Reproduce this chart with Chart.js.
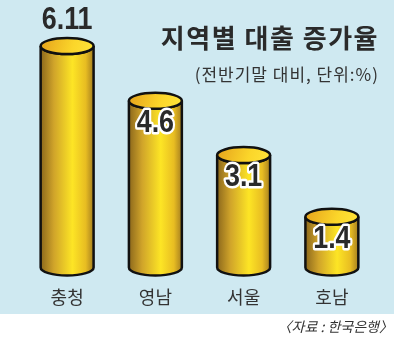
<!DOCTYPE html>
<html>
<head>
<meta charset="utf-8">
<title>지역별 대출 증가율</title>
<script src="https://cdn.jsdelivr.net/npm/chart.js"></script>
<style>
html,body{margin:0;padding:0;background:#fff}
canvas{display:block}
</style>
</head>
<body>
<canvas id="chart" width="394" height="339"></canvas>
<script>
const regions = ['충청', '영남', '서울', '호남'];
const rates = [6.11, 4.6, 3.1, 1.4];
const rateLabels = ['6.11', '4.6', '3.1', '1.4'];
const titleText = '지역별 대출 증가율';
const subtitleText = '(전반기말 대비, 단위:%)';
const sourceText = '〈자료 : 한국은행〉';

const KR = "'Noto Sans CJK KR', 'Noto Sans', sans-serif";
const NUM = "'Liberation Sans', Arial, sans-serif";

// blue panel, heading and source line
const backdrop = {
  id: 'backdrop',
  beforeDraw(chart) {
    const ctx = chart.ctx;
    ctx.save();
    ctx.fillStyle = '#fff';
    ctx.fillRect(0, 0, chart.width, chart.height);
    ctx.fillStyle = '#cfe9f1';
    ctx.fillRect(0, 0, chart.width, 314);

    ctx.fillStyle = '#2a2a2a';
    ctx.textAlign = 'right';
    ctx.textBaseline = 'middle';
    ctx.font = 'bold 26px ' + KR;
    ctx.letterSpacing = '1.5px';
    ctx.fillText(titleText, 379, 38);
    ctx.font = '17px ' + KR;
    ctx.letterSpacing = '1px';
    ctx.fillStyle = '#333';
    ctx.fillText(subtitleText, 379, 75);

    ctx.letterSpacing = '0px';
    ctx.font = 'italic 14px ' + KR;
    ctx.fillText(sourceText, 393, 327);
    ctx.restore();
  }
};

function drawCylinder(ctx, cx, top, base, w) {
  const rx = w / 2, ry = 8;
  const left = cx - rx, right = cx + rx;

  const body = ctx.createLinearGradient(left, 0, right, 0);
  body.addColorStop(0, '#8c681c');
  body.addColorStop(0.25, '#d0a42a');
  body.addColorStop(0.6, '#fde525');
  body.addColorStop(0.85, '#e8bd22');
  body.addColorStop(1, '#a67f20');

  ctx.beginPath();
  ctx.moveTo(left, top);
  ctx.lineTo(left, base);
  ctx.ellipse(cx, base, rx, ry, 0, Math.PI, 0, true);
  ctx.lineTo(right, top);
  ctx.ellipse(cx, top, rx, ry, 0, 0, Math.PI, false);
  ctx.closePath();
  ctx.fillStyle = body;
  ctx.fill();
  ctx.stroke();

  const cap = ctx.createLinearGradient(left, top - ry, right, top + ry);
  cap.addColorStop(0, '#e5a21c');
  cap.addColorStop(0.6, '#fbd62a');
  cap.addColorStop(1, '#ffe43a');
  ctx.beginPath();
  ctx.ellipse(cx, top, rx, ry, 0, 0, Math.PI * 2);
  ctx.fillStyle = cap;
  ctx.fill();
  ctx.stroke();
}

function drawValue(ctx, text, x, y, outlined) {
  ctx.save();
  ctx.translate(x, y);
  ctx.scale(0.84, 1);
  ctx.font = 'bold 32px ' + NUM;
  ctx.textAlign = 'center';
  ctx.textBaseline = 'middle';
  if (outlined) {
    ctx.lineJoin = 'round';
    ctx.lineWidth = 5;
    ctx.strokeStyle = '#fff';
    ctx.strokeText(text, 0, 1);
  }
  ctx.fillStyle = '#2a2a2a';
  ctx.fillText(text, 0, 1);
  ctx.restore();
}

// each bar element is redrawn as a gold cylinder
const cylinders = {
  id: 'cylinders',
  afterDatasetsDraw(chart) {
    const ctx = chart.ctx;
    const meta = chart.getDatasetMeta(0);
    ctx.save();
    ctx.lineWidth = 2.5;
    ctx.strokeStyle = '#111';
    meta.data.forEach((bar) => {
      drawCylinder(ctx, bar.x, bar.y, bar.base, bar.width);
    });
    meta.data.forEach((bar, i) => {
      if (i === 0) drawValue(ctx, rateLabels[i], bar.x, bar.y - 27, false);
      else drawValue(ctx, rateLabels[i], bar.x, bar.y + 21, true);
    });
    ctx.restore();
  }
};

new Chart(document.getElementById('chart'), {
  type: 'bar',
  data: {
    labels: regions,
    datasets: [{
      data: rates,
      backgroundColor: 'rgba(0,0,0,0)',
      borderWidth: 0,
      barPercentage: 0.6,
      categoryPercentage: 1
    }]
  },
  options: {
    responsive: false,
    animation: false,
    layout: { padding: { left: 23, right: 18, top: 0, bottom: 15 } },
    plugins: {
      legend: { display: false },
      tooltip: { enabled: false }
    },
    scales: {
      x: {
        grid: { display: false },
        border: { display: false },
        ticks: { padding: 16, color: '#333', font: { family: KR, size: 18 } }
      },
      y: { display: false, min: 0.14, max: 7.38 }
    }
  },
  plugins: [backdrop, cylinders]
});
</script>
</body>
</html>
